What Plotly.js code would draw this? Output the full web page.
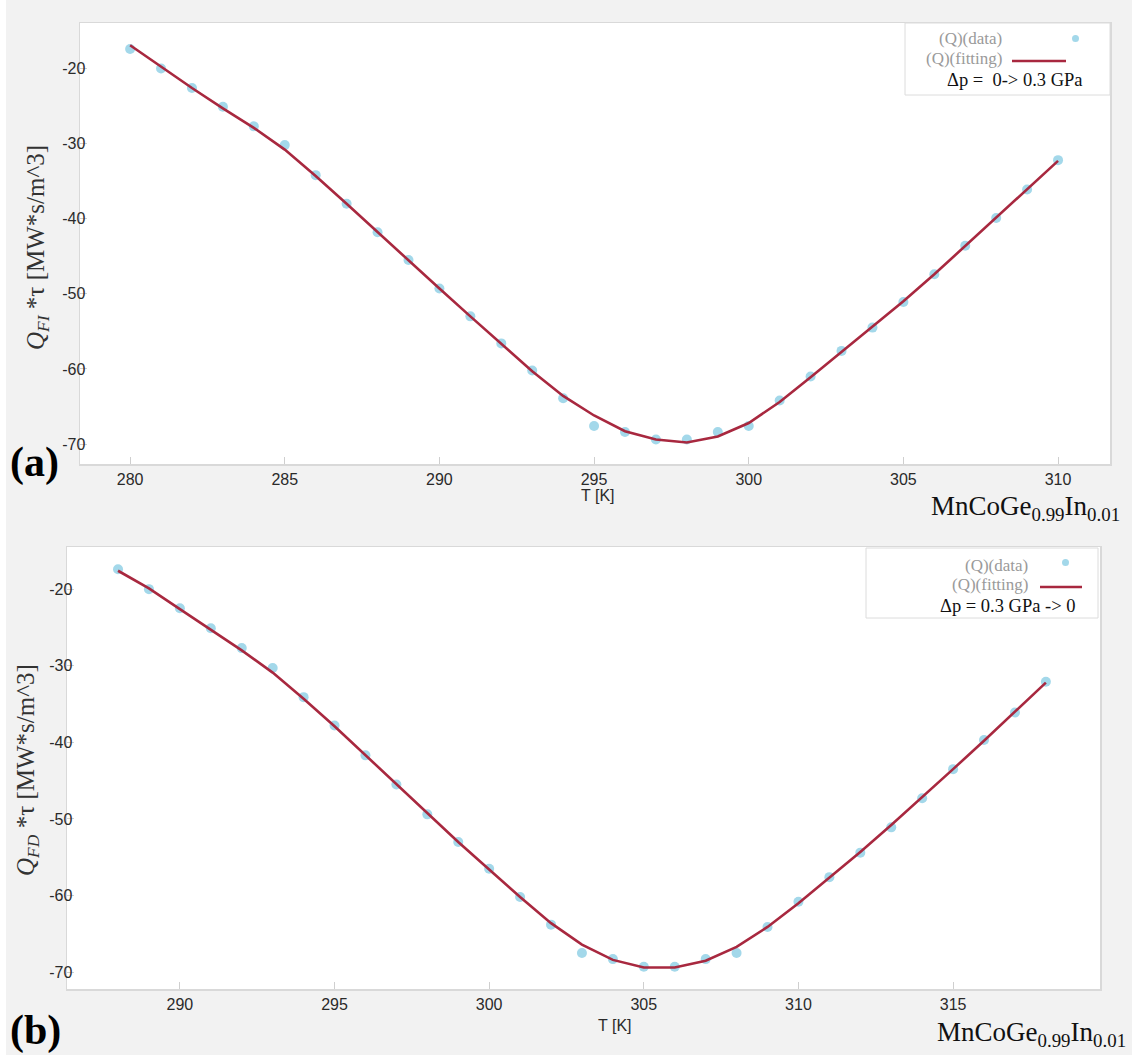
<!DOCTYPE html>
<html>
<head>
<meta charset="utf-8">
<script src="https://cdn.plot.ly/plotly-3.0.1.min.js"></script>
<style>html,body{margin:0;padding:0;background:#f2f2f2;}#chart{width:1132px;height:1055px;}</style>
</head>
<body>
<div id="chart"></div>
<script>
// Panel (a): Δp = 0 -> 0.3 GPa
const T_a = [280,281,282,283,284,285,286,287,288,289,290,291,292,293,294,295,296,297,298,299,300,301,302,303,304,305,306,307,308,309,310];
const Q_a_data = [-17.4,-20.0,-22.6,-25.1,-27.7,-30.2,-34.2,-38.0,-41.8,-45.5,-49.3,-53.0,-56.6,-60.2,-63.9,-67.6,-68.4,-69.4,-69.4,-68.4,-67.6,-64.2,-61.0,-57.6,-54.5,-51.1,-47.4,-43.6,-39.9,-36.1,-32.2];
const Q_a_fit = [-16.9,-19.8,-22.6,-25.3,-27.9,-30.8,-34.3,-38.0,-41.8,-45.6,-49.3,-53.0,-56.7,-60.3,-63.6,-66.2,-68.3,-69.4,-69.8,-69.0,-67.2,-64.4,-61.1,-57.7,-54.4,-51.0,-47.4,-43.6,-39.8,-36.0,-32.3];

// Panel (b): Δp = 0.3 GPa -> 0
const T_b = [288,289,290,291,292,293,294,295,296,297,298,299,300,301,302,303,304,305,306,307,308,309,310,311,312,313,314,315,316,317,318];
const Q_b_data = [-17.4,-20.0,-22.5,-25.1,-27.7,-30.3,-34.1,-37.8,-41.7,-45.5,-49.4,-53.0,-56.5,-60.2,-63.8,-67.5,-68.3,-69.3,-69.3,-68.3,-67.5,-64.1,-60.8,-57.6,-54.4,-51.1,-47.3,-43.5,-39.7,-36.1,-32.1];
const Q_b_fit = [-17.6,-19.9,-22.6,-25.3,-28.0,-30.9,-34.3,-37.9,-41.7,-45.5,-49.3,-53.0,-56.6,-60.2,-63.6,-66.4,-68.4,-69.4,-69.4,-68.5,-66.7,-64.1,-61.0,-57.7,-54.3,-50.8,-47.2,-43.5,-39.8,-36.0,-32.2];

const xTicks_a = [280,285,290,295,300,305,310];
const xTicks_b = [290,295,300,305,310,315];
const yTicks = [-20,-30,-40,-50,-60,-70];
const yTickText = ['-20','-30','-40','-50','-60','-70'];

const W = 1132, H = 1055;
const px = x => x / W;
const py = y => 1 - y / H;

const dotColor = '#a3d8ea';
const lineColor = '#a8283f';
const serif = 'Liberation Serif, Times New Roman, serif';
const sans = 'Liberation Sans, Arial, sans-serif';

const traces = [
  {x: T_a, y: Q_a_data, type: 'scatter', mode: 'markers', name: '(Q)(data)', showlegend: false,
   marker: {color: dotColor, size: 10}, xaxis: 'x', yaxis: 'y'},
  {x: T_a, y: Q_a_fit, type: 'scatter', mode: 'lines', name: '(Q)(fitting)', showlegend: false,
   line: {color: lineColor, width: 2.6}, xaxis: 'x', yaxis: 'y'},
  {x: T_b, y: Q_b_data, type: 'scatter', mode: 'markers', name: '(Q)(data)', showlegend: false,
   marker: {color: dotColor, size: 10}, xaxis: 'x2', yaxis: 'y2'},
  {x: T_b, y: Q_b_fit, type: 'scatter', mode: 'lines', name: '(Q)(fitting)', showlegend: false,
   line: {color: lineColor, width: 2.6}, xaxis: 'x2', yaxis: 'y2'}
];

const axCommon = {
  showgrid: false, zeroline: false, showline: true, mirror: true,
  linecolor: '#d9d9d9', linewidth: 1.5,
  ticks: 'inside', ticklen: 7, tickcolor: '#cfcfcf', tickwidth: 1,
  tickfont: {family: sans, size: 16, color: '#2a2a2a'}
};

const layout = {
  width: W, height: H,
  margin: {l: 0, r: 0, t: 0, b: 0},
  paper_bgcolor: '#f2f2f2',
  plot_bgcolor: '#ffffff',
  showlegend: false,
  xaxis: Object.assign({}, axCommon, {domain: [px(80), px(1110)], range: [278.38, 311.68],
    tickvals: xTicks_a, anchor: 'y'}),
  yaxis: Object.assign({}, axCommon, {domain: [py(464), py(23)], range: [-72.66, -13.94],
    tickvals: yTicks, ticktext: yTickText, ticklabelstandoff: -10, anchor: 'x'}),
  xaxis2: Object.assign({}, axCommon, {domain: [px(67), px(1100)], range: [286.35, 319.75],
    tickvals: xTicks_b, anchor: 'y2'}),
  yaxis2: Object.assign({}, axCommon, {domain: [py(989), py(547)], range: [-72.2, -14.5],
    tickvals: yTicks, ticktext: yTickText, ticklabelstandoff: -10, anchor: 'x2'}),
  shapes: [
    // left white strip
    {type: 'rect', xref: 'paper', yref: 'paper', x0: 0, x1: px(6), y0: 0, y1: 1,
     fillcolor: '#ffffff', line: {width: 0}, layer: 'below'},
    // legend (a)
    {type: 'rect', xref: 'paper', yref: 'paper', x0: px(905), x1: px(1110), y0: py(95), y1: py(23),
     fillcolor: '#ffffff', line: {color: '#dcdcdc', width: 1}},
    {type: 'circle', xref: 'paper', yref: 'paper', x0: px(1072), x1: px(1079), y0: py(42), y1: py(35),
     fillcolor: dotColor, line: {width: 0}},
    {type: 'line', xref: 'paper', yref: 'paper', x0: px(1012), x1: px(1066), y0: py(61), y1: py(61),
     line: {color: lineColor, width: 2.6}},
    // legend (b)
    {type: 'rect', xref: 'paper', yref: 'paper', x0: px(866), x1: px(1098), y0: py(618), y1: py(548),
     fillcolor: '#ffffff', line: {color: '#dcdcdc', width: 1}},
    {type: 'circle', xref: 'paper', yref: 'paper', x0: px(1062), x1: px(1069), y0: py(566), y1: py(559),
     fillcolor: dotColor, line: {width: 0}},
    {type: 'line', xref: 'paper', yref: 'paper', x0: px(1040), x1: px(1082), y0: py(587), y1: py(587),
     line: {color: lineColor, width: 2.6}}
  ],
  annotations: [
    // legend (a) texts
    {xref: 'paper', yref: 'paper', x: px(1004), y: py(38), xanchor: 'right', yanchor: 'middle', showarrow: false,
     text: '(Q)(data)', font: {family: serif, size: 17, color: '#9a9a9a'}},
    {xref: 'paper', yref: 'paper', x: px(1004), y: py(58), xanchor: 'right', yanchor: 'middle', showarrow: false,
     text: '(Q)(fitting)', font: {family: serif, size: 17, color: '#9a9a9a'}},
    {xref: 'paper', yref: 'paper', x: px(945), y: py(80), xanchor: 'left', yanchor: 'middle', showarrow: false,
     text: 'Δp =  0-> 0.3 GPa', font: {family: serif, size: 18.5, color: '#111'}},
    // legend (b) texts
    {xref: 'paper', yref: 'paper', x: px(1030), y: py(565), xanchor: 'right', yanchor: 'middle', showarrow: false,
     text: '(Q)(data)', font: {family: serif, size: 17, color: '#9a9a9a'}},
    {xref: 'paper', yref: 'paper', x: px(1030), y: py(584), xanchor: 'right', yanchor: 'middle', showarrow: false,
     text: '(Q)(fitting)', font: {family: serif, size: 17, color: '#9a9a9a'}},
    {xref: 'paper', yref: 'paper', x: px(938), y: py(606), xanchor: 'left', yanchor: 'middle', showarrow: false,
     text: 'Δp = 0.3 GPa -> 0', font: {family: serif, size: 18.5, color: '#111'}},
    // x titles
    {xref: 'paper', yref: 'paper', x: px(598), y: py(495), xanchor: 'center', yanchor: 'middle', showarrow: false,
     text: 'T [K]', font: {family: sans, size: 16, color: '#2a2a2a'}},
    {xref: 'paper', yref: 'paper', x: px(615), y: py(1025), xanchor: 'center', yanchor: 'middle', showarrow: false,
     text: 'T [K]', font: {family: sans, size: 16, color: '#2a2a2a'}},
    // y titles
    {xref: 'paper', yref: 'paper', x: px(38), y: py(248), xanchor: 'center', yanchor: 'middle', showarrow: false,
     textangle: -90, text: '<i>Q</i><sub><i>FI</i></sub> *τ [MW*s/m^3]', font: {family: serif, size: 25, color: '#333'}},
    {xref: 'paper', yref: 'paper', x: px(27), y: py(770), xanchor: 'center', yanchor: 'middle', showarrow: false,
     textangle: -90, text: '<i>Q</i><sub><i>FD</i></sub> *τ [MW*s/m^3]', font: {family: serif, size: 25, color: '#333'}},
    // panel labels
    {xref: 'paper', yref: 'paper', x: px(8), y: py(462), xanchor: 'left', yanchor: 'middle', showarrow: false,
     text: '<b>(a)</b>', font: {family: serif, size: 42, color: '#000'}},
    {xref: 'paper', yref: 'paper', x: px(8), y: py(1030), xanchor: 'left', yanchor: 'middle', showarrow: false,
     text: '<b>(b)</b>', font: {family: serif, size: 42, color: '#000'}},
    // compound labels
    {xref: 'paper', yref: 'paper', x: px(1122), y: py(508), xanchor: 'right', yanchor: 'middle', showarrow: false,
     text: 'MnCoGe<sub>0.99</sub>In<sub>0.01</sub>', font: {family: serif, size: 27, color: '#111'}},
    {xref: 'paper', yref: 'paper', x: px(1128), y: py(1034), xanchor: 'right', yanchor: 'middle', showarrow: false,
     text: 'MnCoGe<sub>0.99</sub>In<sub>0.01</sub>', font: {family: serif, size: 27, color: '#111'}}
  ]
};

Plotly.newPlot('chart', traces, layout, {displayModeBar: false, staticPlot: true});
</script>
</body>
</html>
